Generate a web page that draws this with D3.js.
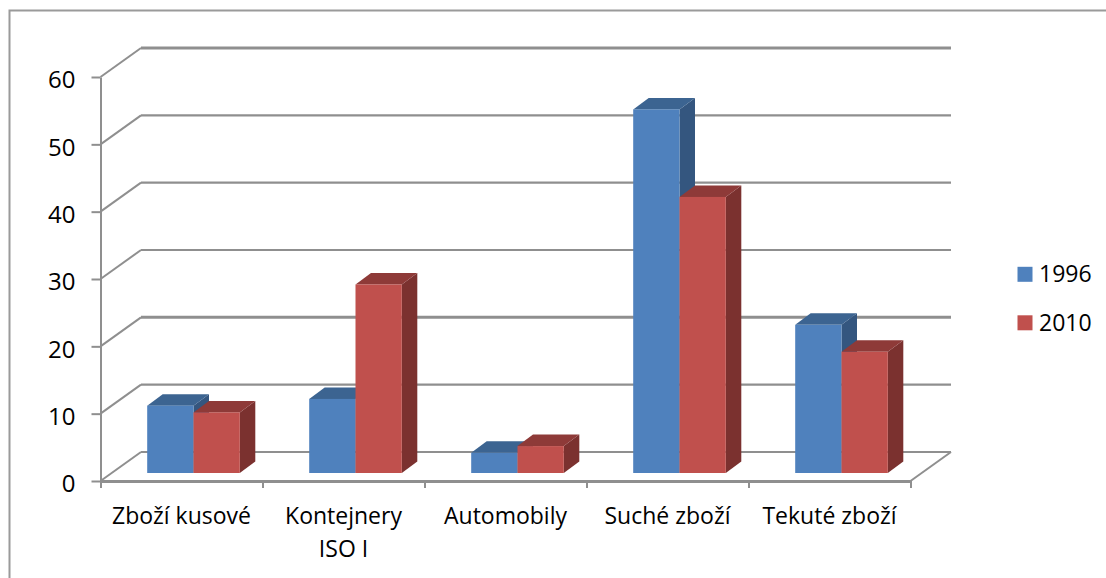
<!DOCTYPE html>
<html lang="en">

<head>
  <meta charset="utf-8">
  <title>Zboží</title>
  <script src="https://cdn.jsdelivr.net/npm/d3@7"></script>
  <style>
    html, body { margin: 0; padding: 0; background: #fff; }
    svg { display: block; }
    text { font-family: "Open Sans", sans-serif; font-size: 23px; fill: #000; }
  </style>
</head>

<body>
  <script>
    var categories = [["Zboží kusové"], ["Kontejnery", "ISO I"], ["Automobily"], ["Suché zboží"], ["Tekuté zboží"]];
    var seriesNames = ["1996", "2010"];
    var values1996 = [10, 11, 3, 54, 22];
    var values2010 = [9, 28, 4, 41, 18];
    var yTicks = [0, 10, 20, 30, 40, 50, 60];

    var gray = "#8f8f8f";
    var front = ["#4f81bd", "#c0504d"];
    var topFace = ["#3c6491", "#8e3a38"];
    var sideFace = ["#34567f", "#7b312f"];

    var svg = d3.select("body").append("svg")
      .attr("width", 1106)
      .attr("height", 578);

    // frame, only top and left are in the picture
    svg.append("path")
      .attr("d", "M9.5,578V10.5H1106")
      .attr("fill", "none")
      .attr("stroke", "#9a9a9a")
      .attr("stroke-width", 2);

    var y = d3.scaleLinear().domain([0, 60]).range([481, 77]);
    var x = d3.scaleLinear().domain([0, categories.length]).range([100.5, 910.5]);
    var band = d3.scaleBand().domain(d3.range(categories.length)).range([100.5, 910.5]);

    // wall offset of the fake 3d
    var wall = { dx: 40.5, dy: -29 };
    var bar = { w: 46.3, dx: 15.5, dy: -11.5, shiftX: 12, floor: -8 };

    var grid = svg.append("g").attr("fill", "none").attr("stroke", gray);

    // side wall lines
    grid.selectAll(".diag")
      .data(yTicks)
      .enter()
      .append("path")
      .attr("class", "diag")
      .attr("stroke-width", 2)
      .attr("d", function(d) {
        return "M" + x(0) + "," + y(d) + "l" + wall.dx + "," + wall.dy;
      });

    // back wall lines
    grid.selectAll(".back")
      .data(yTicks)
      .enter()
      .append("path")
      .attr("class", "back")
      .attr("stroke-width", function(d) {
        return d == 60 || d == 20 ? 3 : 2.2;
      })
      .attr("d", function(d) {
        return "M" + (x(0) + wall.dx) + "," + (y(d) + wall.dy) + "H" + (x(5) + wall.dx);
      });

    // floor right edge
    svg.append("path")
      .attr("d", "M" + x(5) + "," + y(0) + "L" + (x(5) + wall.dx) + "," + (y(0) + wall.dy))
      .attr("stroke", gray)
      .attr("stroke-width", 2);

    var rows = [];
    categories.forEach(function(c, i) {
      rows.push({ cat: i, s: 0, v: values1996[i] });
      rows.push({ cat: i, s: 1, v: values2010[i] });
    });

    function poly(points) {
      return points.map(function(p) { return p.join(","); }).join(" ");
    }

    var bars = svg.append("g").selectAll("g")
      .data(rows)
      .enter()
      .append("g");

    function barLeft(d) {
      return band(d.cat) + band.bandwidth() / 2 + bar.shiftX + (d.s - 1) * bar.w;
    }
    function barTop(d) {
      return y(d.v) + bar.floor;
    }
    var base = y(0) + bar.floor;

    bars.append("polygon")
      .attr("fill", function(d) { return sideFace[d.s]; })
      .attr("points", function(d) {
        var r = barLeft(d) + bar.w;
        return poly([[r, barTop(d)], [r + bar.dx, barTop(d) + bar.dy], [r + bar.dx, base + bar.dy], [r, base]]);
      });

    bars.append("polygon")
      .attr("fill", function(d) { return topFace[d.s]; })
      .attr("points", function(d) {
        var l = barLeft(d);
        return poly([[l, barTop(d)], [l + bar.dx, barTop(d) + bar.dy], [l + bar.w + bar.dx, barTop(d) + bar.dy], [l + bar.w, barTop(d)]]);
      });

    bars.append("rect")
      .attr("fill", function(d) { return front[d.s]; })
      .attr("x", barLeft)
      .attr("y", barTop)
      .attr("width", bar.w)
      .attr("height", function(d) { return base - barTop(d); });

    // axes
    var yAxis = svg.append("g")
      .attr("transform", "translate(100.5,0)")
      .call(d3.axisLeft(y).tickValues(yTicks).tickSize(9).tickSizeOuter(0).tickPadding(16));

    var xAxis = svg.append("g")
      .attr("transform", "translate(0,481)")
      .call(d3.axisBottom(x).tickValues(d3.range(categories.length + 1)).tickSize(7).tickSizeOuter(0).tickFormat(""));

    svg.selectAll(".domain, .tick line")
      .attr("stroke", gray)
      .attr("stroke-width", 2);
    xAxis.select(".domain").attr("stroke-width", 3);
    yAxis.selectAll("text")
      .attr("dy", "0.45em")
      .style("font-size", "24px");

    // category labels, second line for the long one
    var labels = svg.append("g")
      .attr("text-anchor", "middle")
      .selectAll("text")
      .data(categories)
      .enter()
      .append("text")
      .attr("transform", function(d, i) {
        return "translate(" + (band(i) + band.bandwidth() / 2) + ",524)";
      });

    labels.selectAll("tspan")
      .data(function(d) { return d; })
      .enter()
      .append("tspan")
      .attr("x", 0)
      .attr("y", function(d, i) { return i * 33; })
      .text(function(d) { return d; });

    // legend
    var legend = svg.append("g")
      .selectAll("g")
      .data(seriesNames)
      .enter()
      .append("g")
      .attr("transform", function(d, i) {
        return "translate(1017.5," + (266.8 + i * 48.5) + ")";
      });

    legend.append("rect")
      .attr("width", 15)
      .attr("height", 15)
      .attr("fill", function(d, i) { return front[i]; });

    legend.append("text")
      .attr("x", 21.5)
      .attr("y", 15.5)
      .text(function(d) { return d; });
  </script>
</body>

</html>
